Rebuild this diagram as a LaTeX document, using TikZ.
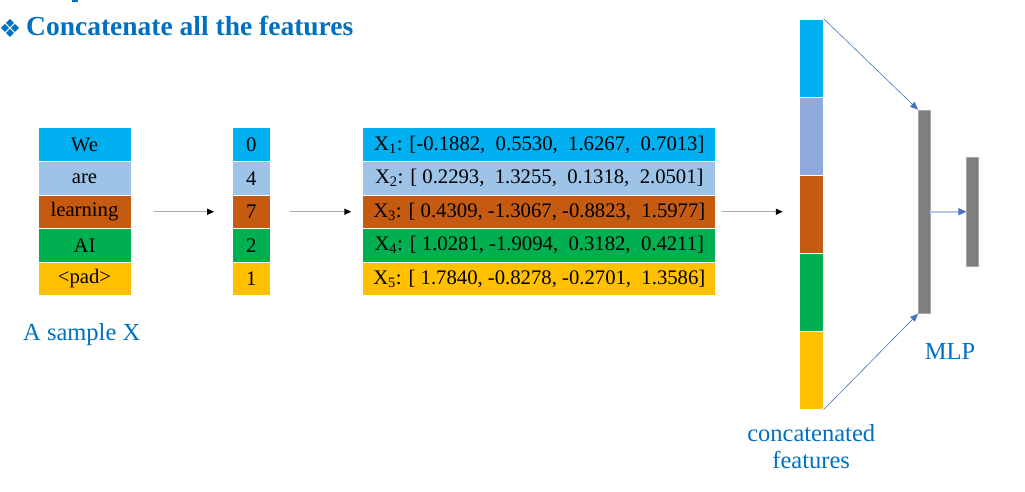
\documentclass[tikz,border=0pt]{standalone}
\usepackage{fontspec}
\setmainfont{Liberation Serif}
\newfontfamily\symfont{DejaVu Sans}
\usetikzlibrary{arrows.meta}

\definecolor{cCyan}{HTML}{00B0F0}
\definecolor{cLight}{HTML}{9DC3E6}
\definecolor{cLilac}{HTML}{8FAADC}
\definecolor{cBrown}{HTML}{C55A11}
\definecolor{cGreen}{HTML}{00B050}
\definecolor{cGold}{HTML}{FFC000}
\definecolor{cHead}{HTML}{0070C0}
\definecolor{cArrow}{HTML}{4472C4}
\definecolor{cPale}{HTML}{B4C7E7}
\definecolor{cBar}{HTML}{7F7F7F}
\definecolor{cLine}{HTML}{A6A6A6}

\tikzset{
  cell/.style={rectangle, draw=white, line width=1pt, inner sep=0pt,
    minimum height=33.5pt, font=\fontsize{20.7}{24}\selectfont, text=black},
  word/.style={cell, minimum width=93pt},
  idx/.style={cell, minimum width=37.5pt},
  vec/.style={cell, minimum width=353pt},
  seg/.style={rectangle, draw=white, line width=0.6pt, inner sep=0pt,
    minimum width=24.3pt, minimum height=78.06pt},
  bar/.style={rectangle, fill=cBar, draw=gray!70, line width=0.5pt, inner sep=0pt},
  flow/.style={draw=cLine, line width=1.4pt,
    -{Triangle[length=7pt,width=6pt,color=black]}},
  link/.style={draw=cArrow, line width=0.6pt,
    -{Triangle[length=8pt,width=6.5pt]}},
  caption/.style={text=cHead, font=\fontsize{24.5}{29}\selectfont, align=center},
}

\begin{document}
\begin{tikzpicture}[x=1pt, y=-1pt]
\useasboundingbox (0,0) rectangle (1025,492);

% clipped heading remnant and title
\fill[cHead] (72,0) rectangle (78,2.2);
\node[anchor=center, text=cHead, inner sep=0pt] (bullet) at (10,28)
  {\symfont\fontsize{25}{28}\selectfont ❖};
\node[anchor=base west, text=cHead, inner sep=0pt,
  font=\fontsize{27.5}{32}\selectfont\bfseries] (title) at (26,36)
  {Concatenate all the features};

% word column
\node[word, fill=cCyan]  (w1) at (84.5,144.75) {We};
\node[word, fill=cLight] (w2) at (84.5,178.25) {are};
\node[word, fill=cBrown] (w3) at (84.5,211.75) {learning};
\node[word, fill=cGreen] (w4) at (84.5,245.25) {AI};
\node[word, fill=cGold]  (w5) at (84.5,278.75) {<pad>};
\node[caption, anchor=base west, inner sep=0pt] (sample) at (23,340) {A sample X};

% index column
\node[idx, fill=cCyan]  (i1) at (251.4,144.75) {0};
\node[idx, fill=cLight] (i2) at (251.4,178.25) {4};
\node[idx, fill=cBrown] (i3) at (251.4,211.75) {7};
\node[idx, fill=cGreen] (i4) at (251.4,245.25) {2};
\node[idx, fill=cGold]  (i5) at (251.4,278.75) {1};

% embedding vectors
\node[vec, fill=cCyan]  (v1) at (539.3,144.75)
  {X\textsubscript{1}: [-0.1882,~ 0.5530,~ 1.6267,~ 0.7013]};
\node[vec, fill=cLight] (v2) at (539.3,178.25)
  {X\textsubscript{2}: [~0.2293,~ 1.3255,~ 0.1318,~ 2.0501]};
\node[vec, fill=cBrown] (v3) at (539.3,211.75)
  {X\textsubscript{3}: [~0.4309, -1.3067, -0.8823,~ 1.5977]};
\node[vec, fill=cGreen] (v4) at (539.3,245.25)
  {X\textsubscript{4}: [~1.0281, -1.9094,~ 0.3182,~ 0.4211]};
\node[vec, fill=cGold]  (v5) at (539.3,278.75)
  {X\textsubscript{5}: [~1.7840, -0.8278, -0.2701,~ 1.3586]};

% concatenated feature vector
\node[seg, fill=cCyan]  (c1) at (811.2,58.0)  {};
\node[seg, fill=cLilac] (c2) at (811.2,136.1) {};
\node[seg, fill=cBrown] (c3) at (811.2,214.2) {};
\node[seg, fill=cGreen] (c4) at (811.2,292.2) {};
\node[seg, fill=cGold]  (c5) at (811.2,370.3) {};
\node[caption] (cap) at (811.2,447) {concatenated\\[-2pt]features};

% MLP layers
\node[bar, minimum width=11.7pt, minimum height=203.3pt] (m1) at (924.2,211.7) {};
\node[bar, minimum width=12pt, minimum height=108.7pt] (m2) at (972.7,211.7) {};
\node[caption] (mlp) at (950,351) {MLP};

% flow arrows
\draw[flow] ([xshift=22pt]w3.east) -- ([xshift=-18pt]i3.west);
\draw[flow] ([xshift=19pt]i3.east) -- ([xshift=-11pt]v3.west);
\draw[flow] ([xshift=6pt]v3.east) -- ([xshift=-16pt]c3.west |- v3.east);

% connections into the MLP
\draw[link] (c1.north east) -- (m1.north west);
\draw[link] (c5.south east) -- (m1.south west);
\draw[draw=cPale, line width=1.6pt, -{Triangle[length=8pt,width=7pt,color=cArrow]}]
  (m1.east) -- (m2.west);
\end{tikzpicture}
\end{document}
